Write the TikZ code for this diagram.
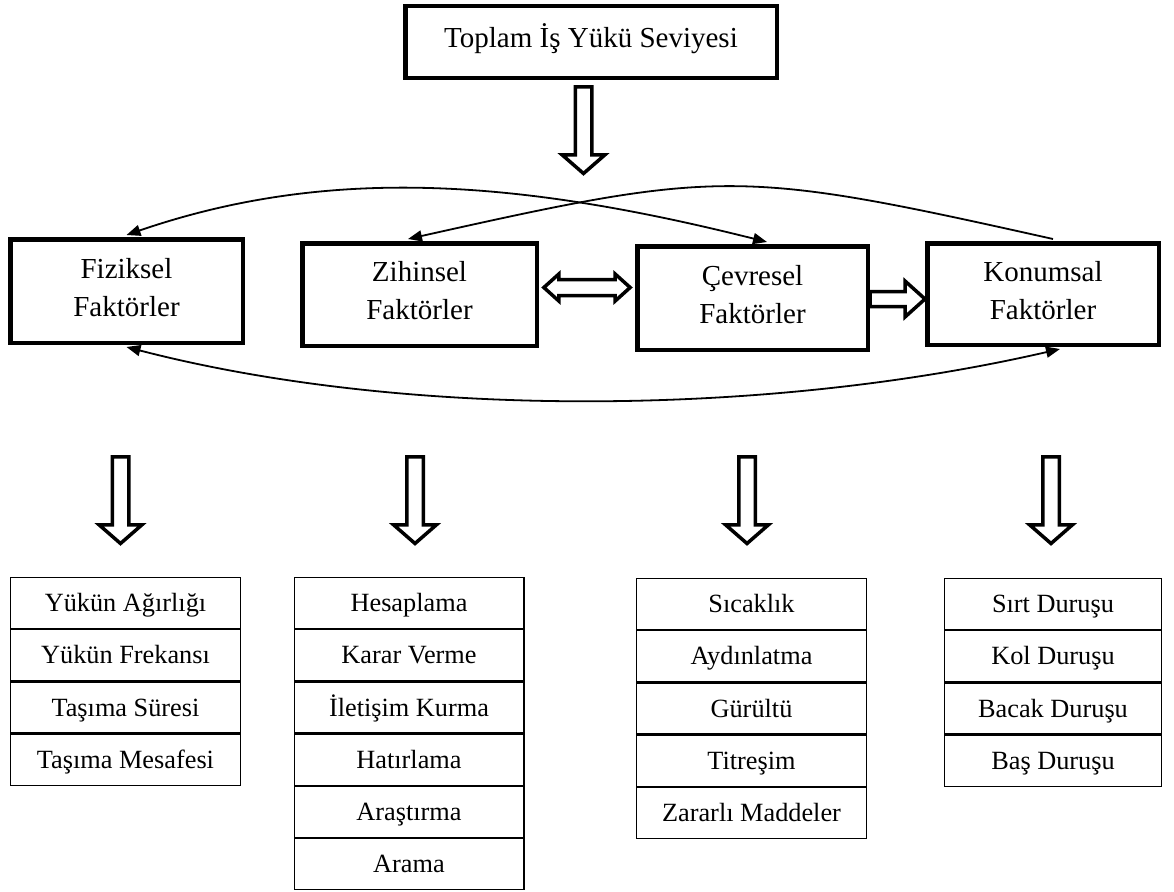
\documentclass[tikz,border=0pt]{standalone}
\usepackage{fontspec}
\setmainfont{Liberation Serif}
\usetikzlibrary{arrows.meta,calc}
\newcommand\mydstrut{\rule[-8pt]{0pt}{8pt}}
\tikzset{
  mainbox/.style={draw,line width=4.5pt,inner sep=0pt,align=center,font=\fontsize{29}{38}\selectfont},
  cell/.style={draw,line width=1.2pt,inner sep=0pt,minimum height=51pt,text height=18pt,text depth=1pt,font=\fontsize{26.3}{30}\selectfont},
  blk/.style={draw,line width=3.5pt,line join=miter},
  curve/.style={line width=1.8pt},
  downblk/.pic={\draw[blk] (-8.25,1.75) -- (-8.25,69.75) -- (-21.5,69.75) -- (0,88.5) -- (21.5,69.75) -- (8.25,69.75) -- (8.25,1.75) -- cycle;}
}
\begin{document}
\begin{tikzpicture}[x=1pt,y=-1pt,>={Triangle[length=14pt,width=11pt]}]
\useasboundingbox (0,0) rectangle (1174,891);
\fill[white] (0,0) rectangle (1174,891);

% main boxes
\node[mainbox,minimum width=371.5pt,minimum height=71.5pt,text height=19pt,text depth=7pt] (top) at (591,42) {Toplam İş Yükü Seviyesi};
\node[mainbox,minimum width=232.5pt,minimum height=103.5pt] (fiz) at (126.5,291) {Fiziksel\\Faktörler\mydstrut};
\node[mainbox,minimum width=234.5pt,minimum height=102.5pt] (zih) at (419.5,294.5) {Zihinsel\\Faktörler\mydstrut};
\node[mainbox,minimum width=230.5pt,minimum height=103.5pt] (cev) at (752.5,298) {Çevresel\\Faktörler\mydstrut};
\node[mainbox,minimum width=231.5pt,minimum height=101.5pt] (kon) at (1043,294) {Konumsal\\Faktörler\mydstrut};

% block arrows down
\pic at (583.5,85) {downblk};
\pic at (120.5,455) {downblk};
\pic at (415,455) {downblk};
\pic at (747,455) {downblk};
\pic at (1051,455) {downblk};

% double block arrow Zihinsel <-> Cevresel
\coordinate (dL) at ($(zih.east)+(4.85,-7)$);
\coordinate (dR) at ($(cev.west)+(-4.85,-10.5)$);
\draw[blk] (dL) -- ($(dL)+(15,-13.5)$) -- ($(dL)+(15,-8)$) -- ($(dR)+(-15,-8)$) -- ($(dR)+(-15,-13.5)$) -- (dR)
  -- ($(dR)+(-15,13.5)$) -- ($(dR)+(-15,8)$) -- ($(dL)+(15,8)$) -- ($(dL)+(15,13.5)$) -- cycle;

% single block arrow Cevresel -> Konumsal
\coordinate (sT) at ($(cev.east)+(0,1)$);
\coordinate (sH) at ($(kon.west)+(0,5)$);
\draw[blk] ($(sT)+(0,-7.5)$) -- ($(sH)+(-20,-7.5)$) -- ($(sH)+(-20,-18)$) -- (sH)
  -- ($(sH)+(-20,18)$) -- ($(sH)+(-20,7.5)$) -- ($(sT)+(0,7.5)$) -- cycle;

% curved connectors
\draw[curve,<->] ($(fiz.north)+(0,-2)$) .. controls (330,165) and (520,180) .. ($(cev.north)+(14.5,-2)$);
\draw[curve,->] ($(kon.north)+(10,-2)$) .. controls (740,169) and (721,169) .. ($(zih.north)+(-11.5,-2)$);
\draw[curve,<->] ($(fiz.south)+(0,2)$) .. controls (400,418) and (760,418) .. ($(kon.south)+(17,2)$);

% list 1
\node[cell,minimum width=229.8pt] (f1) at (125.5,603.1) {Yükün Ağırlığı};
\node[cell,minimum width=229.8pt,anchor=north] (f2) at (f1.south) {Yükün Frekansı};
\node[cell,minimum width=229.8pt,anchor=north] (f3) at (f2.south) {Taşıma Süresi};
\node[cell,minimum width=229.8pt,anchor=north] (f4) at (f3.south) {Taşıma Mesafesi};

% list 2
\node[cell,minimum width=229.8pt] (z1) at (409,603.1) {Hesaplama};
\node[cell,minimum width=229.8pt,anchor=north] (z2) at (z1.south) {Karar Verme};
\node[cell,minimum width=229.8pt,anchor=north] (z3) at (z2.south) {İletişim Kurma};
\node[cell,minimum width=229.8pt,anchor=north] (z4) at (z3.south) {Hatırlama};
\node[cell,minimum width=229.8pt,anchor=north] (z5) at (z4.south) {Araştırma};
\node[cell,minimum width=229.8pt,anchor=north] (z6) at (z5.south) {Arama};

% list 3
\node[cell,minimum width=229.8pt] (c1) at (751.5,604.1) {Sıcaklık};
\node[cell,minimum width=229.8pt,anchor=north] (c2) at (c1.south) {Aydınlatma};
\node[cell,minimum width=229.8pt,anchor=north] (c3) at (c2.south) {Gürültü};
\node[cell,minimum width=229.8pt,anchor=north] (c4) at (c3.south) {Titreşim};
\node[cell,minimum width=229.8pt,anchor=north] (c5) at (c4.south) {Zararlı Maddeler};

% list 4
\node[cell,minimum width=216.8pt] (k1) at (1053,604.1) {Sırt Duruşu};
\node[cell,minimum width=216.8pt,anchor=north] (k2) at (k1.south) {Kol Duruşu};
\node[cell,minimum width=216.8pt,anchor=north] (k3) at (k2.south) {Bacak Duruşu};
\node[cell,minimum width=216.8pt,anchor=north] (k4) at (k3.south) {Baş Duruşu};
\end{tikzpicture}
\end{document}
